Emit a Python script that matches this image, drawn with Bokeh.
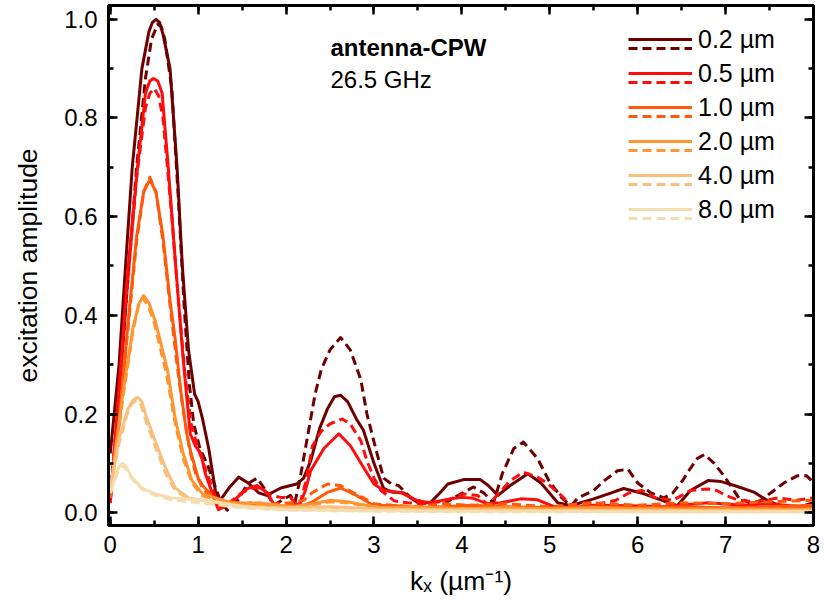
from bokeh.plotting import figure
from bokeh.models import (Range1d, LinearAxis, SingleIntervalTicker, Legend, LegendItem, Label,
                          PrintfTickFormatter)
from bokeh.embed import file_html
from bokeh.resources import INLINE

# ---------------- data ----------------
sizes = ["0.2 µm", "0.5 µm", "1.0 µm", "2.0 µm", "4.0 µm", "8.0 µm"]
colors = ["#6E0000", "#FF0D0D", "#FF5A0A", "#FF9530", "#F8C07C", "#F5DDB0"]

k_02_solid = [0, 0.05, 0.1, 0.17, 0.25, 0.36, 0.44, 0.48, 0.52, 0.56, 0.6, 0.68, 0.76, 0.82, 0.89, 0.96, 1.0, 1.05,
              1.12, 1.2, 1.25, 1.35, 1.46, 1.57, 1.69, 1.78, 1.94, 2.12, 2.2, 2.28, 2.38, 2.47, 2.55, 2.62, 2.7, 2.8,
              2.88, 3.0, 3.11, 3.2, 3.34, 3.5, 3.64, 3.75, 3.84, 4.02, 4.21, 4.3, 4.41, 4.55, 4.75, 4.9, 5.09, 5.24,
              5.5, 5.7, 5.84, 6.04, 6.23, 6.45, 6.6, 6.8, 6.95, 7.1, 7.33, 7.48, 7.71, 7.85, 8.0]
a_02_solid = [0.12, 0.21, 0.3, 0.49, 0.7, 0.9, 0.975, 0.994, 1.0, 0.994, 0.97, 0.9, 0.7, 0.5, 0.33, 0.24, 0.225, 0.19,
              0.13, 0.04, 0.025, 0.05, 0.072, 0.06, 0.04, 0.035, 0.05, 0.058, 0.07, 0.105, 0.17, 0.21, 0.235, 0.238,
              0.225, 0.19, 0.167, 0.10, 0.049, 0.042, 0.04, 0.02, 0.02, 0.04, 0.058, 0.067, 0.067, 0.055, 0.035,
              0.055, 0.079, 0.06, 0.02, 0.014, 0.028, 0.04, 0.049, 0.04, 0.028, 0.014, 0.045, 0.065, 0.063, 0.055,
              0.041, 0.024, 0.008, 0.012, 0.02]

k_02_dash = [0, 0.1, 0.2, 0.3, 0.4, 0.47, 0.54, 0.58, 0.62, 0.7, 0.78, 0.84, 0.9, 0.95, 1.02, 1.1, 1.16, 1.25, 1.33,
             1.45, 1.56, 1.67, 1.75, 1.86, 1.95, 2.05, 2.1, 2.15, 2.18, 2.22, 2.28, 2.33, 2.4, 2.5, 2.62, 2.73, 2.85,
             2.92, 3.02, 3.11, 3.2, 3.28, 3.42, 3.61, 3.72, 3.86, 3.99, 4.13, 4.25, 4.36, 4.46, 4.59, 4.7, 4.86, 4.99,
             5.13, 5.24, 5.32, 5.5, 5.62, 5.77, 5.89, 6.0, 6.15, 6.3, 6.4, 6.51, 6.6, 6.68, 6.76, 6.87, 6.98, 7.08,
             7.15, 7.3, 7.4, 7.52, 7.67, 7.82, 7.92, 8.0]
a_02_dash = [0.03, 0.24, 0.47, 0.7, 0.88, 0.96, 0.99, 0.985, 0.96, 0.86, 0.62, 0.42, 0.26, 0.18, 0.13, 0.1, 0.07,
             0.025, 0.005, 0.025, 0.058, 0.07, 0.05, 0.015, 0.025, 0.035, 0.02, 0.06, 0.09, 0.13, 0.19, 0.24, 0.29,
             0.33, 0.355, 0.33, 0.27, 0.2, 0.13, 0.07, 0.058, 0.055, 0.03, 0.018, 0.01, 0.025, 0.038, 0.052, 0.04,
             0.02, 0.079, 0.13, 0.143, 0.11, 0.065, 0.031, 0.014, 0.03, 0.045, 0.065, 0.085, 0.088, 0.06, 0.04, 0.03,
             0.04, 0.065, 0.09, 0.11, 0.118, 0.1, 0.075, 0.049, 0.03, 0.018, 0.025, 0.041, 0.061, 0.075, 0.075, 0.061]

k_05_solid = [0, 0.1, 0.2, 0.31, 0.4, 0.45, 0.49, 0.54, 0.59, 0.66, 0.74, 0.83, 0.91, 0.97, 1.03, 1.08, 1.16, 1.23,
              1.3, 1.4, 1.56, 1.67, 1.78, 1.86, 1.95, 2.05, 2.16, 2.22, 2.28, 2.43, 2.6, 2.73, 2.88, 3.0, 3.11, 3.3,
              3.5, 3.64, 3.87, 4.0, 4.13, 4.29, 4.44, 4.67, 4.86, 5.05, 5.24, 5.5, 5.92, 6.3, 6.8, 7.2, 7.5, 8.0]
a_05_solid = [0.02, 0.25, 0.49, 0.7, 0.85, 0.875, 0.88, 0.875, 0.85, 0.7, 0.51, 0.31, 0.16, 0.135, 0.12, 0.08, 0.04,
              0.006, 0.012, 0.024, 0.049, 0.055, 0.041, 0.018, 0.01, 0.012, 0.018, 0.045, 0.085, 0.13, 0.16, 0.136,
              0.092, 0.058, 0.045, 0.041, 0.024, 0.02, 0.028, 0.031, 0.029, 0.018, 0.02, 0.028, 0.026, 0.012, 0.01,
              0.015, 0.014, 0.012, 0.02, 0.015, 0.018, 0.01]

k_05_dash = [0, 0.1, 0.2, 0.3, 0.4, 0.45, 0.5, 0.55, 0.6, 0.7, 0.78, 0.85, 0.92, 1.0, 1.1, 1.2, 1.26, 1.38, 1.5,
             1.62, 1.72, 1.82, 1.94, 2.05, 2.13, 2.16, 2.22, 2.3, 2.4, 2.5, 2.64, 2.73, 2.85, 2.92, 3.0, 3.08, 3.23,
             3.38, 3.57, 3.75, 3.87, 4.02, 4.18, 4.3, 4.45, 4.55, 4.7, 4.86, 4.97, 5.13, 5.24, 5.4, 5.55, 5.75, 5.9,
             6.05, 6.2, 6.4, 6.6, 6.8, 6.9, 7.0, 7.15, 7.35, 7.6, 7.8, 8.0]
a_05_dash = [0.02, 0.24, 0.47, 0.68, 0.82, 0.85, 0.86, 0.845, 0.8, 0.6, 0.42, 0.28, 0.18, 0.13, 0.08, 0.03, 0.01,
             0.024, 0.041, 0.05, 0.05, 0.035, 0.031, 0.031, 0.014, 0.02, 0.06, 0.135, 0.165, 0.18, 0.19, 0.18, 0.146,
             0.105, 0.07, 0.045, 0.024, 0.02, 0.018, 0.022, 0.028, 0.038, 0.035, 0.015, 0.045, 0.065, 0.082, 0.072,
             0.06, 0.035, 0.015, 0.02, 0.018, 0.025, 0.04, 0.045, 0.03, 0.025, 0.045, 0.048, 0.045, 0.035, 0.025,
             0.022, 0.03, 0.025, 0.03]

k_10_solid = [0, 0.1, 0.2, 0.3, 0.38, 0.45, 0.52, 0.6, 0.68, 0.74, 0.8, 0.87, 0.92, 1.0, 1.05, 1.13, 1.2, 1.3, 1.45,
              1.6, 1.75, 1.9, 2.05, 2.2, 2.3, 2.47, 2.62, 2.8, 3.0, 3.2, 3.5, 3.8, 4.1, 4.5, 5.0, 5.5, 6.0, 6.5, 7.0,
              7.5, 8.0]
a_10_solid = [0.03, 0.18, 0.38, 0.56, 0.65, 0.675, 0.65, 0.56, 0.43, 0.35, 0.25, 0.16, 0.12, 0.07, 0.055, 0.04,
              0.025, 0.02, 0.02, 0.018, 0.014, 0.012, 0.015, 0.015, 0.022, 0.041, 0.05, 0.035, 0.014, 0.015, 0.01,
              0.012, 0.015, 0.012, 0.01, 0.012, 0.01, 0.012, 0.01, 0.012, 0.015]

k_10_dash = [0, 0.1, 0.2, 0.3, 0.38, 0.45, 0.52, 0.6, 0.68, 0.76, 0.82, 0.9, 0.97, 1.05, 1.12, 1.2, 1.3, 1.45, 1.6,
             1.75, 1.9, 2.05, 2.2, 2.3, 2.47, 2.62, 2.77, 2.88, 3.0, 3.2, 3.5, 3.8, 4.1, 4.5, 5.0, 5.5, 6.0, 6.5, 7.0,
             7.5, 8.0]
a_10_dash = [0.03, 0.18, 0.37, 0.55, 0.65, 0.68, 0.65, 0.55, 0.42, 0.3, 0.22, 0.13, 0.08, 0.05, 0.035, 0.025, 0.022,
             0.018, 0.02, 0.015, 0.018, 0.02, 0.025, 0.041, 0.058, 0.055, 0.04, 0.03, 0.018, 0.015, 0.012, 0.018,
             0.015, 0.018, 0.012, 0.02, 0.015, 0.02, 0.018, 0.022, 0.025]

k_20_solid = [0, 0.06, 0.15, 0.26, 0.33, 0.38, 0.44, 0.51, 0.65, 0.74, 0.83, 0.93, 1.05, 1.2, 1.35, 1.5, 1.7, 1.9,
              2.1, 2.3, 2.5, 2.7, 2.9, 3.1, 3.4, 3.7, 4.0, 4.5, 5.0, 5.5, 6.0, 6.5, 7.0, 7.5, 8.0]
a_20_solid = [0.04, 0.13, 0.25, 0.376, 0.425, 0.44, 0.425, 0.39, 0.29, 0.19, 0.12, 0.065, 0.038, 0.03, 0.022, 0.018,
              0.02, 0.015, 0.012, 0.018, 0.025, 0.022, 0.015, 0.01, 0.012, 0.01, 0.008, 0.01, 0.008, 0.01, 0.008,
              0.007, 0.008, 0.007, 0.008]

k_20_dash = [0, 0.06, 0.15, 0.26, 0.32, 0.37, 0.43, 0.5, 0.64, 0.74, 0.83, 0.93, 1.05, 1.2, 1.35, 1.5, 1.7, 1.9,
             2.1, 2.3, 2.5, 2.7, 2.9, 3.1, 3.4, 3.7, 4.0, 4.5, 5.0, 5.5, 6.0, 6.5, 7.0, 7.5, 8.0]
a_20_dash = [0.04, 0.12, 0.24, 0.37, 0.42, 0.435, 0.42, 0.385, 0.28, 0.18, 0.11, 0.06, 0.034, 0.026, 0.02, 0.016,
             0.018, 0.014, 0.012, 0.016, 0.022, 0.02, 0.014, 0.01, 0.011, 0.01, 0.008, 0.009, 0.008, 0.009, 0.008,
             0.007, 0.007, 0.007, 0.007]

k_40_solid = [0, 0.1, 0.2, 0.26, 0.31, 0.36, 0.4, 0.51, 0.63, 0.74, 0.89, 1.08, 1.3, 1.6, 2.0, 2.5, 3.0, 3.5, 4.0,
              5.0, 6.0, 7.0, 8.0]
a_40_solid = [0.05, 0.15, 0.21, 0.228, 0.234, 0.225, 0.2, 0.146, 0.09, 0.05, 0.03, 0.024, 0.018, 0.012, 0.01, 0.012,
              0.008, 0.006, 0.006, 0.005, 0.005, 0.004, 0.004]

k_40_dash = [0, 0.1, 0.2, 0.25, 0.3, 0.35, 0.4, 0.51, 0.63, 0.74, 0.89, 1.08, 1.3, 1.6, 2.0, 2.5, 3.0, 3.5, 4.0,
             5.0, 6.0, 7.0, 8.0]
a_40_dash = [0.05, 0.14, 0.205, 0.222, 0.228, 0.218, 0.19, 0.135, 0.08, 0.045, 0.028, 0.02, 0.016, 0.012, 0.009,
             0.01, 0.007, 0.005, 0.005, 0.004, 0.004, 0.003, 0.003]

k_80_solid = [0, 0.07, 0.11, 0.14, 0.18, 0.25, 0.36, 0.51, 0.7, 1.0, 1.2, 1.5, 2.0, 3.0, 4.0, 5.0, 6.0, 7.0, 8.0]
a_80_solid = [0.04, 0.08, 0.097, 0.10, 0.093, 0.07, 0.05, 0.038, 0.03, 0.026, 0.022, 0.012, 0.006, 0.004, 0.003,
              0.003, 0.002, 0.002, 0.002]

k_80_dash = [0, 0.07, 0.11, 0.14, 0.18, 0.25, 0.36, 0.51, 0.7, 1.0, 1.2, 1.5, 2.0, 3.0, 4.0, 5.0, 6.0, 7.0, 8.0]
a_80_dash = [0.04, 0.075, 0.092, 0.095, 0.088, 0.068, 0.048, 0.035, 0.026, 0.02, 0.016, 0.01, 0.005, 0.003, 0.002,
             0.002, 0.002, 0.002, 0.002]

x_ticks_interval = 1
y_ticks_interval = 0.2

solid_series = [(k_02_solid, a_02_solid), (k_05_solid, a_05_solid), (k_10_solid, a_10_solid),
                (k_20_solid, a_20_solid), (k_40_solid, a_40_solid), (k_80_solid, a_80_solid)]
dash_series = [(k_02_dash, a_02_dash), (k_05_dash, a_05_dash), (k_10_dash, a_10_dash),
               (k_20_dash, a_20_dash), (k_40_dash, a_40_dash), (k_80_dash, a_80_dash)]

FONT = "Liberation Sans"
TICK_FS = "24px"
LABEL_FS = "26.5px"
DASH = "9 5"
LW = 3

p = figure(width=827, height=604, output_backend="svg", toolbar_location=None,
           x_range=Range1d(-0.02, 8.0), y_range=Range1d(-0.026, 1.028),
           min_border_left=108, min_border_right=14, min_border_top=5, min_border_bottom=79,
           x_axis_location=None, y_axis_location=None)
p.background_fill_color = "white"
p.border_fill_color = "white"
p.outline_line_color = "black"
p.outline_line_width = 3
p.xgrid.visible = False
p.ygrid.visible = False


def style_axis(ax, show_labels):
    ax.axis_line_width = 3
    ax.axis_line_color = "black"
    ax.major_tick_in = 9
    ax.major_tick_out = 0
    ax.minor_tick_in = 5
    ax.minor_tick_out = 0
    ax.major_tick_line_width = 2.5
    ax.minor_tick_line_width = 2.5
    ax.major_label_text_font = FONT
    ax.major_label_text_font_size = TICK_FS
    ax.major_label_text_color = "black"
    if not show_labels:
        ax.major_label_text_alpha = 0
        ax.major_label_text_font_size = "1px"
    ax.axis_label_text_font = FONT
    ax.axis_label_text_font_size = LABEL_FS
    ax.axis_label_text_font_style = "normal"
    ax.axis_label_text_color = "black"


xt = lambda: SingleIntervalTicker(interval=x_ticks_interval, num_minor_ticks=2)
yt = lambda: SingleIntervalTicker(interval=y_ticks_interval, num_minor_ticks=2)

bottom = LinearAxis(ticker=xt(), axis_label="kₓ (µm⁻¹)", formatter=PrintfTickFormatter(format="%d"))
style_axis(bottom, True)
bottom.major_label_standoff = 10
bottom.axis_label_standoff = 10
p.add_layout(bottom, "below")

left = LinearAxis(ticker=yt(), axis_label="excitation amplitude", formatter=PrintfTickFormatter(format="%.1f"))
style_axis(left, True)
left.major_label_standoff = 11
left.axis_label_standoff = 18
p.add_layout(left, "left")

top = LinearAxis(ticker=xt())
style_axis(top, False)
top.major_label_standoff = 0
p.add_layout(top, "above")

right = LinearAxis(ticker=yt())
style_axis(right, False)
right.major_label_standoff = 0
p.add_layout(right, "right")

solid_r, dash_r = [], []
for i in range(6):
    ks, vs = solid_series[i]
    kd, vd = dash_series[i]
    rs = p.line(ks, vs, line_color=colors[i], line_width=LW, line_join="round")
    rd = p.line(kd, vd, line_color=colors[i], line_width=LW, line_dash=DASH, line_join="round")
    solid_r.append(rs)
    dash_r.append(rd)

leg_common = dict(glyph_width=64, glyph_height=34, label_height=34, spacing=0, padding=0, margin=0,
                  border_line_alpha=0, background_fill_alpha=0, label_standoff=6,
                  label_text_font=FONT, label_text_font_size="25px", label_text_color="black")
leg_solid = Legend(items=[LegendItem(label=sizes[i], renderers=[solid_r[i]]) for i in range(6)],
                   location=(520, 299), **leg_common)
leg_dash = Legend(items=[LegendItem(label=" ", renderers=[dash_r[i]]) for i in range(6)],
                  location=(520, 290), **leg_common)
p.add_layout(leg_solid)
p.add_layout(leg_dash)

# annotation texts
p.add_layout(Label(x=2.505, y=0.943, text="antenna-CPW", text_font=FONT, text_font_size="24px",
                   text_font_style="bold", text_baseline="alphabetic", text_color="black"))
p.add_layout(Label(x=2.505, y=0.878, text="26.5 GHz", text_font=FONT, text_font_size="24px",
                   text_baseline="alphabetic", text_color="black"))

open("out.html", "w").write(file_html(p, INLINE))
